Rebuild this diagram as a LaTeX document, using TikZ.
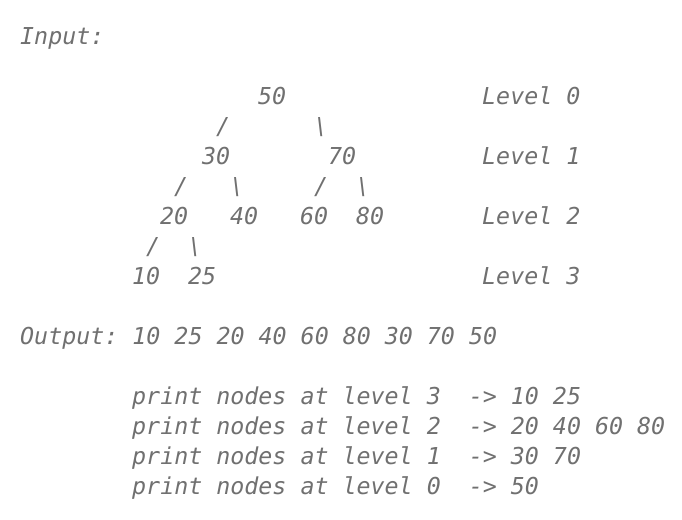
\documentclass[tikz,border=0pt]{standalone}
\usepackage{fontspec}
\setmonofont{DejaVu Sans Mono}
\usepackage{tikz}
\usetikzlibrary{positioning}
\definecolor{tgray}{HTML}{707070}

\begin{document}
\begin{tikzpicture}[x=14pt, y=-30pt,
  txt/.style={anchor=base west, inner sep=0pt, text=tgray, font=\ttfamily\itshape\fontsize{23.3}{30}\selectfont}]
\useasboundingbox (-1.4286,-1.4667) rectangle (47.286,15.8667);
% input tree
\node[txt] (inp) at (0,0) {Input:};
\node[txt] (n50) at (17,2) {50}; \node[txt] (lv0) at (33,2) {Level 0};
\node[txt] (s30) at (14,3) {/}; \node[txt] (s70) at (21,3) {\textbackslash};
\node[txt] (n30) at (13,4) {30}; \node[txt] (n70) at (22,4) {70}; \node[txt] (lv1) at (33,4) {Level 1};
\node[txt] (s20) at (11,5) {/}; \node[txt] (s40) at (15,5) {\textbackslash};
\node[txt] (s60) at (21,5) {/}; \node[txt] (s80) at (24,5) {\textbackslash};
\node[txt] (n20) at (10,6) {20}; \node[txt] (n40) at (15,6) {40};
\node[txt] (n60) at (20,6) {60}; \node[txt] (n80) at (24,6) {80}; \node[txt] (lv2) at (33,6) {Level 2};
\node[txt] (s10) at (9,7) {/}; \node[txt] (s25) at (12,7) {\textbackslash};
\node[txt] (n10) at (8,8) {10}; \node[txt] (n25) at (12,8) {25}; \node[txt] (lv3) at (33,8) {Level 3};
% output
\node[txt] (outp) at (0,10) {Output: 10 25 20 40 60 80 30 70 50};
\node[txt] (p3) at (8,12) {print nodes at level 3\ \ -> 10 25};
\node[txt] (p2) at (8,13) {print nodes at level 2\ \ -> 20 40 60 80};
\node[txt] (p1) at (8,14) {print nodes at level 1\ \ -> 30 70};
\node[txt] (p0) at (8,15) {print nodes at level 0\ \ -> 50};
\end{tikzpicture}
\end{document}
